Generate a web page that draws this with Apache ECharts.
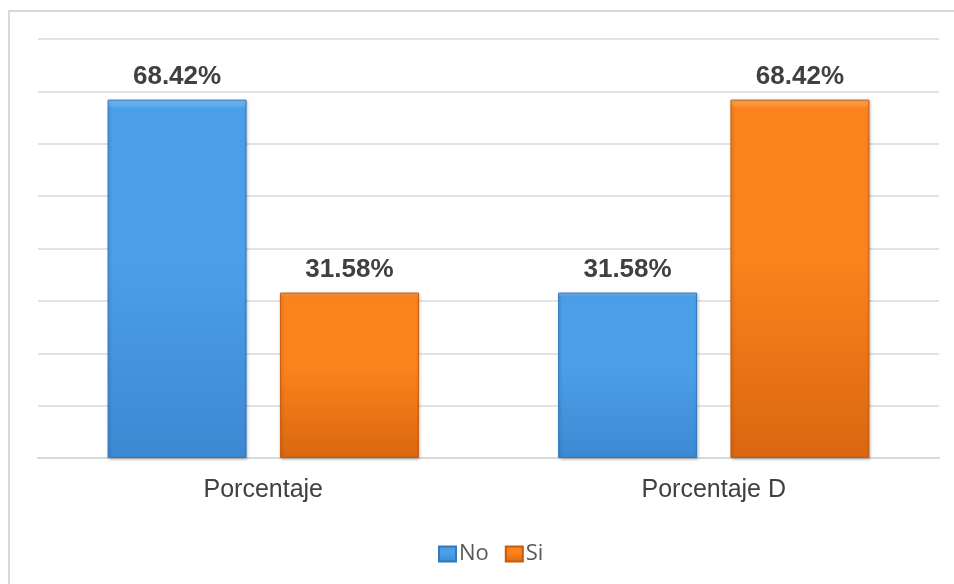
<!DOCTYPE html>
<html>
<head>
<meta charset="utf-8">
<script src="https://cdn.jsdelivr.net/npm/echarts@6/dist/echarts.min.js"></script>
<style>
  html, body { margin: 0; padding: 0; background: #ffffff; overflow: hidden; }
  #chart { width: 954px; height: 584px; }
</style>
</head>
<body>
<div id="chart"></div>
<script>
// Categories and series values (percentages)
const categories = ['Porcentaje', 'Porcentaje D'];
const seriesNames = ['No', 'Si'];
const noValues = [68.42, 31.58];
const siValues = [31.58, 68.42];

const chart = echarts.init(document.getElementById('chart'));

function grad(top, mid, bottom) {
  return new echarts.graphic.LinearGradient(0, 0, 0, 1, [
    { offset: 0, color: top },
    { offset: 0.025, color: mid },
    { offset: 0.45, color: mid },
    { offset: 1, color: bottom }
  ]);
}

const labelStyle = {
  show: true,
  position: 'top',
  distance: 10,
  fontFamily: 'Liberation Sans, Arial, sans-serif',
  fontSize: 26,
  fontWeight: 'bold',
  color: '#404040',
  formatter: p => p.value.toFixed(2) + '%'
};

chart.setOption({
  animation: false,
  backgroundColor: '#ffffff',
  graphic: [{
    type: 'polyline',
    shape: { points: [[9, 700], [9, 11], [1000, 11]] },
    style: { fill: 'none', stroke: '#d9d9d9', lineWidth: 2 },
    silent: true
  }],
  grid: { left: 38, right: 15, top: 39, bottom: 126 },
  legend: {
    top: 538,
    left: 433,
    itemWidth: 17,
    itemHeight: 15,
    itemGap: 16,
    icon: 'rect',
    textStyle: { fontFamily: 'Open Sans, Liberation Sans, sans-serif', fontSize: 22, color: '#595959', padding: [0, 0, 0, -2] },
    data: seriesNames
  },
  xAxis: {
    type: 'category',
    data: categories,
    axisLine: { lineStyle: { color: '#d9d9d9', width: 2 } },
    axisTick: { show: false },
    axisLabel: {
      fontFamily: 'Liberation Sans, Arial, sans-serif',
      fontSize: 25,
      color: '#404040',
      margin: 20
    }
  },
  yAxis: {
    type: 'value',
    min: 0,
    max: 80,
    interval: 10,
    axisLabel: { show: false },
    axisLine: { show: false },
    axisTick: { show: false },
    splitLine: { lineStyle: { color: '#d9d9d9', width: 1.5 } }
  },
  series: [
    {
      name: seriesNames[0],
      type: 'bar',
      data: noValues,
      barWidth: 139,
      barGap: '24%',
      itemStyle: {
        color: grad('#80c1f6', '#4b9fe8', '#3c89d2'),
        borderColor: '#3079bf',
        borderWidth: 1,
        shadowColor: 'rgba(0,0,0,0.25)',
        shadowBlur: 3,
        shadowOffsetX: 1,
        shadowOffsetY: 1
      },
      label: labelStyle
    },
    {
      name: seriesNames[1],
      type: 'bar',
      data: siValues,
      barWidth: 139,
      barGap: '24%',
      itemStyle: {
        color: grad('#ffad5c', '#fb821c', '#da6710'),
        borderColor: '#c85a0c',
        borderWidth: 1,
        shadowColor: 'rgba(0,0,0,0.25)',
        shadowBlur: 3,
        shadowOffsetX: 1,
        shadowOffsetY: 1
      },
      label: labelStyle
    }
  ]
});
</script>
</body>
</html>
